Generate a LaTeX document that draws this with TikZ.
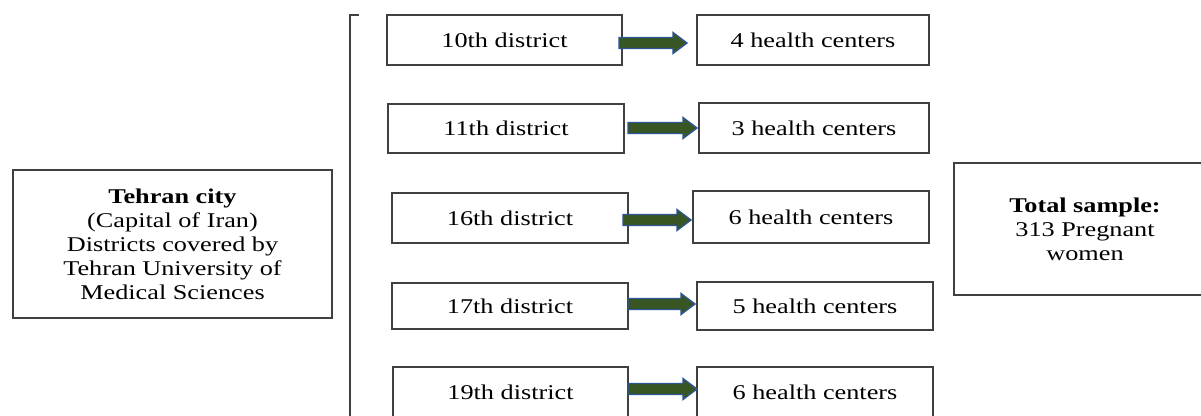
\documentclass[tikz,border=0pt]{standalone}
\usepackage{fontspec}
\setmainfont{Liberation Serif}[FakeStretch=1.25]
\usetikzlibrary{calc}
\definecolor{boxline}{HTML}{404040}
\definecolor{arrgreen}{HTML}{375623}
\definecolor{arrblue}{HTML}{2F5597}
\tikzset{
  box/.style={draw=boxline, line width=1.2pt, rectangle, inner sep=0pt, align=center,
    font=\fontsize{21}{24}\selectfont},
  fatarrow/.style={fill=arrgreen, draw=arrblue, line width=1.3pt, line join=miter},
  bracketline/.style={draw=boxline, line width=1.2pt}
}
\newcommand\fatarr[2]{%
  \path let \p1=(#1), \p2=(#2) in
    [fatarrow] (\x1,\y1+5.5pt) -- (\x2-14pt,\y1+5.5pt) -- (\x2-14pt,\y1+10.5pt) -- (\x2,\y1)
    -- (\x2-14pt,\y1-10.5pt) -- (\x2-14pt,\y1-5.5pt) -- (\x1,\y1-5.5pt) -- cycle;}
\begin{document}
\begin{tikzpicture}[x=1pt,y=-1pt]
\useasboundingbox (0,0) rectangle (1201,415);
\clip (0,0) rectangle (1201,415);
\fill[white] (0,0) rectangle (1201,415);

\node[box, minimum width=319pt, minimum height=148pt] (tehran) at (172.5,244)
  {\textbf{Tehran city}\\(Capital of Iran)\\Districts covered by\\Tehran University of\\Medical Sciences};

\coordinate (brtop) at (359,15);
\coordinate (brcorner) at (350,15);
\coordinate (brbot) at (350,420);
\draw[bracketline] (brtop) -- (brcorner) -- (brbot);

\node[box, minimum width=235pt, minimum height=50pt] (d1) at (504.5,40) {10th district};
\node[box, minimum width=236pt, minimum height=49pt] (d2) at (506,128.5) {11th district};
\node[box, minimum width=236pt, minimum height=50pt] (d3) at (510,218) {16th district};
\node[box, minimum width=236pt, minimum height=46pt] (d4) at (510,306) {17th district};
\node[box, minimum width=235pt, minimum height=50pt] (d5) at (510.5,392) {19th district};

\node[box, minimum width=232pt, minimum height=50pt] (h1) at (813,40) {4 health centers};
\node[box, minimum width=230pt, minimum height=50pt] (h2) at (814,128) {3 health centers};
\node[box, minimum width=236pt, minimum height=52pt] (h3) at (811,217) {6 health centers};
\node[box, minimum width=236pt, minimum height=48pt] (h4) at (815,306) {5 health centers};
\node[box, minimum width=236pt, minimum height=50pt] (h5) at (815,392) {6 health centers};

\node[box, minimum width=262pt, minimum height=132pt] (total) at (1085,229)
  {\textbf{Total sample:}\\313 Pregnant\\women};

\coordinate (a1s) at (619,43);  \coordinate (a1e) at (687,43);
\coordinate (a2s) at (628,128); \coordinate (a2e) at (697,128);
\coordinate (a3s) at (623,220); \coordinate (a3e) at (691,220);
\coordinate (a4s) at (628,304); \coordinate (a4e) at (695,304);
\coordinate (a5s) at (628,389); \coordinate (a5e) at (697,389);
\fatarr{a1s}{a1e}
\fatarr{a2s}{a2e}
\fatarr{a3s}{a3e}
\fatarr{a4s}{a4e}
\fatarr{a5s}{a5e}
\end{tikzpicture}
\end{document}
